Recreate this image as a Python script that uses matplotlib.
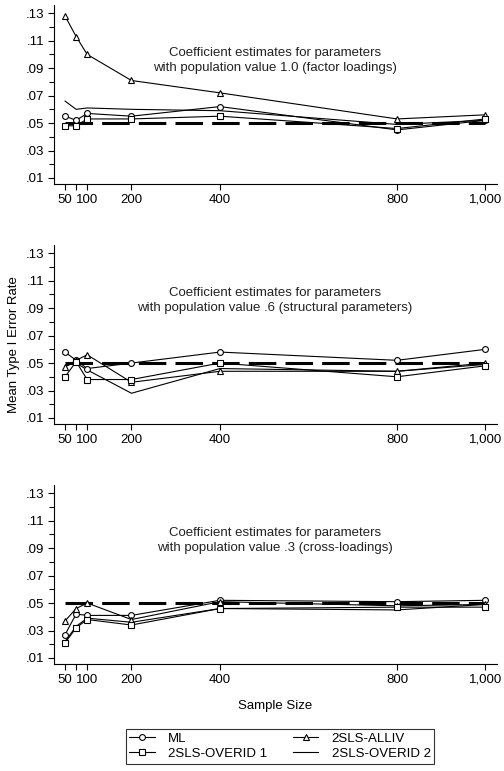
import matplotlib
matplotlib.use("Agg")
import matplotlib.pyplot as plt

plt.rcParams['font.family'] = ['Liberation Sans', 'DejaVu Sans']

sample_sizes = [50, 75, 100, 200, 400, 800, 1000]
xtick_labels = ['50', '', '100', '200', '400', '800', '1,000']
yticks = [0.01, 0.03, 0.05, 0.07, 0.09, 0.11, 0.13]
ytick_labels = ['.01', '.03', '.05', '.07', '.09', '.11', '.13']
yminor = [0.02, 0.04, 0.06, 0.08, 0.10, 0.12]
nominal = 0.05

titles = [
    "Coefficient estimates for parameters\nwith population value 1.0 (factor loadings)",
    "Coefficient estimates for parameters\nwith population value .6 (structural parameters)",
    "Coefficient estimates for parameters\nwith population value .3 (cross-loadings)",
]

# Panel 1: factor loadings
ml_1 = [0.055, 0.052, 0.057, 0.055, 0.062, 0.045, 0.052]
alliv_1 = [0.128, 0.113, 0.100, 0.081, 0.072, 0.053, 0.056]
overid1_1 = [0.048, 0.048, 0.053, 0.053, 0.055, 0.046, 0.053]
overid2_1 = [0.066, 0.060, 0.061, 0.060, 0.059, 0.049, 0.052]

# Panel 2: structural parameters
ml_2 = [0.058, 0.052, 0.046, 0.050, 0.058, 0.052, 0.060]
alliv_2 = [0.047, 0.052, 0.056, 0.036, 0.044, 0.044, 0.050]
overid1_2 = [0.040, 0.051, 0.038, 0.038, 0.050, 0.040, 0.048]
overid2_2 = [0.048, 0.050, 0.045, 0.028, 0.046, 0.044, 0.049]

# Panel 3: cross-loadings
ml_3 = [0.027, 0.042, 0.041, 0.041, 0.052, 0.051, 0.052]
alliv_3 = [0.037, 0.046, 0.050, 0.038, 0.051, 0.048, 0.049]
overid1_3 = [0.021, 0.032, 0.038, 0.034, 0.046, 0.047, 0.047]
overid2_3 = [0.022, 0.033, 0.039, 0.036, 0.046, 0.045, 0.049]

panels = [
    (ml_1, alliv_1, overid1_1, overid2_1),
    (ml_2, alliv_2, overid1_2, overid2_2),
    (ml_3, alliv_3, overid1_3, overid2_3),
]

W, H = 504, 771
fig = plt.figure(figsize=(W / 100, H / 100), dpi=100)

boxes = [(5, 184), (245, 424), (485, 664)]
left_px, right_px = 54, 497

fs = 9.5
lw = 0.8
ms = 4.2
handles = None
for (top, bot), (ml, alliv, ov1, ov2), title in zip(boxes, panels, titles):
    ax = fig.add_axes([left_px / W, 1 - bot / H, (right_px - left_px) / W, (bot - top) / H])
    ax.plot([sample_sizes[0], sample_sizes[-1]], [nominal, nominal], color='black',
            lw=2.2, dashes=(9, 3), zorder=1)
    h1, = ax.plot(sample_sizes, ml, color='black', lw=lw, marker='o', ms=ms,
                  mfc='white', mec='black', mew=0.8, label='ML', zorder=3)
    h3, = ax.plot(sample_sizes, alliv, color='black', lw=lw, marker='^', ms=ms,
                  mfc='white', mec='black', mew=0.8, label='2SLS-ALLIV', zorder=3)
    h2, = ax.plot(sample_sizes, ov1, color='black', lw=lw, marker='s', ms=ms,
                  mfc='white', mec='black', mew=0.8, label='2SLS-OVERID 1', zorder=3)
    h4, = ax.plot(sample_sizes, ov2, color='black', lw=lw, label='2SLS-OVERID 2', zorder=2)
    handles = [h1, h2, h3, h4]

    ax.set_xlim(25, 1026)
    ax.set_ylim(0.0056, 0.136)
    ax.set_xticks(sample_sizes)
    ax.set_xticklabels(xtick_labels)
    ax.set_yticks(yticks)
    ax.set_yticklabels(ytick_labels)
    ax.set_yticks(yminor, minor=True)
    ax.tick_params(axis='both', which='major', direction='out', length=4, width=0.8,
                   labelsize=fs, pad=3)
    ax.tick_params(axis='y', which='minor', direction='out', length=3.5, width=0.8)
    for s in ['top', 'right']:
        ax.spines[s].set_visible(False)
    for s in ['left', 'bottom']:
        ax.spines[s].set_linewidth(0.8)
    ax.text(0.499, 0.69, title, transform=ax.transAxes, ha='center', va='center',
            fontsize=fs, linespacing=1.35, color='#222222')

fig.text(14 / W, 1 - 345 / H, 'Mean Type I Error Rate', rotation=90,
         ha='center', va='center', fontsize=fs)
fig.text(275 / W, 1 - 706 / H, 'Sample Size', ha='center', va='center', fontsize=fs)

leg = fig.legend(handles, [h.get_label() for h in handles], ncol=2,
                 loc='upper center', bbox_to_anchor=(280 / W, 1 - 722 / H),
                 frameon=True, fancybox=False, edgecolor='black', fontsize=fs,
                 handlelength=1.9, columnspacing=2.0, borderpad=0.3,
                 labelspacing=0.2, handletextpad=1.0)
leg.get_frame().set_linewidth(0.8)

fig.savefig('out.png', dpi=100)
